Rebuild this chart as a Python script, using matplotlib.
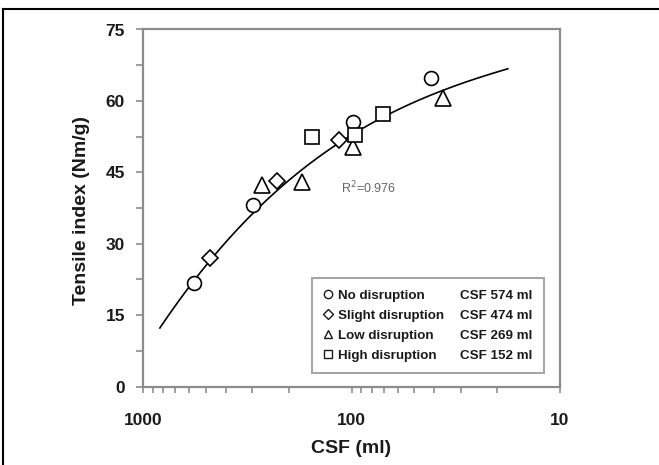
import numpy as np
import matplotlib
matplotlib.use("Agg")
import matplotlib.pyplot as plt
from matplotlib.lines import Line2D
from matplotlib.ticker import FixedLocator, LogLocator, NullFormatter, FixedFormatter

plt.rcParams['font.family'] = ['Liberation Sans', 'DejaVu Sans']

# ---- data ----
circle_csf = [569, 296, 98.6, 41.6]
circle_ti = [21.7, 38.2, 55.5, 64.8]
diamond_csf = [475, 228, 115]
diamond_ti = [27.0, 43.1, 51.8]
triangle_csf = [270, 173, 98.6, 36.6]
triangle_ti = [42.4, 43.0, 50.3, 60.6]
square_csf = [154.6, 95.7, 70.9]
square_ti = [52.5, 52.9, 57.3]

# points
curve_csf = [830, 575, 287, 199, 138, 103, 61.7, 37.0, 17.8]
curve_ti = [12.6, 21.6, 37.0, 42.9, 49.6, 52.7, 57.6, 61.8, 66.9]

legend_labels = ["No disruption", "Slight disruption", "Low disruption", "High disruption"]
legend_csf = ["CSF 574 ml", "CSF 474 ml", "CSF 269 ml", "CSF 152 ml"]
r2_text = "R$^2$=0.976"
y_ticks = [0, 15, 30, 45, 60, 75]
x_ticks = [1000, 100, 10]

fig = plt.figure(figsize=(6.59, 4.65), dpi=100)
ax = fig.add_axes([143/659, 1-386.5/465, 417/659, 357/465])

# fitted curve (cubic in log10 CSF through the points read along it)
coef = np.polyfit(np.log10(curve_csf), curve_ti, 3)
xx = np.logspace(np.log10(curve_csf[0]), np.log10(curve_csf[-1]), 200)
ax.plot(xx, np.polyval(coef, np.log10(xx)), color='black', lw=1.2, zorder=2)

mk = dict(ls='none', mfc='white', mec='black', mew=1.2, zorder=3)
ax.plot(circle_csf, circle_ti, marker='o', ms=10, **mk)
ax.plot(diamond_csf, diamond_ti, marker='D', ms=7.8, **mk)
ax.plot(triangle_csf, triangle_ti, marker='^', ms=11, **mk)
ax.plot(square_csf, square_ti, marker='s', ms=10, **mk)

ax.set_xscale('log')
ax.set_xlim(1000, 10)
ax.set_ylim(0, 75)

ax.xaxis.set_major_locator(FixedLocator(x_ticks))
ax.xaxis.set_major_formatter(FixedFormatter([str(v) for v in x_ticks]))
ax.xaxis.set_minor_locator(LogLocator(base=10, subs=np.arange(2, 10)))
ax.xaxis.set_minor_formatter(NullFormatter())
ax.set_yticks(y_ticks)
ax.set_yticks(np.arange(7.5, 75, 15), minor=True)

spine_c = '#8c8c8c'
for s in ax.spines.values():
    s.set_color(spine_c)
    s.set_linewidth(1.6)
ax.tick_params(axis='both', which='both', direction='out', color=spine_c, width=1.2)
ax.tick_params(axis='x', which='both', length=4, pad=15)
ax.tick_params(axis='y', which='both', length=5, pad=8)
for lab in ax.get_xticklabels() + ax.get_yticklabels():
    lab.set_fontsize(12.5)
    lab.set_fontweight('bold')
    lab.set_color('#1a1a1a')

ax.set_xlabel("CSF (ml)", fontsize=14, fontweight='bold', color='#1a1a1a')
ax.set_ylabel("Tensile index (Nm/g)", fontsize=14, fontweight='bold', color='#1a1a1a')
ax.xaxis.label.set_va('center')
ax.yaxis.label.set_va('center')
ax.xaxis.set_label_coords(0.5, -0.175)
ax.yaxis.set_label_coords(-0.148, 0.494)

ax.text(112, 41.7, r2_text, fontsize=9, color='#666666', va='center', ha='left')

# legend: markers + labels in first column, CSF values in second column
lg_m = dict(ls='none', mfc='none', mec='#1a1a1a', mew=1.0)
handles = [Line2D([], [], marker='o', ms=6, **lg_m),
           Line2D([], [], marker='D', ms=5, **lg_m),
           Line2D([], [], marker='^', ms=6, **lg_m),
           Line2D([], [], marker='s', ms=6, **lg_m)]
blank = [Line2D([], [], ls='none') for _ in legend_csf]
leg = ax.legend(handles + blank, legend_labels + legend_csf, ncol=2,
                loc='lower right', bbox_to_anchor=(0.962, 0.037),
                prop={'weight': 'bold', 'size': 9.6}, frameon=True, fancybox=False,
                handlelength=0.7, handletextpad=0.45, columnspacing=0.05,
                labelspacing=0.58, borderpad=0.85, borderaxespad=0)
leg.get_frame().set_edgecolor(spine_c)
leg.get_frame().set_linewidth(1.4)
for t in leg.get_texts():
    t.set_color('#1a1a1a')

# outer frame of the figure panel
fig.add_artist(Line2D([3/659, 3/659], [0, 1-9/465], transform=fig.transFigure, color='black', lw=1.5))
fig.add_artist(Line2D([3/659, 658/659], [1-9/465, 1-9/465], transform=fig.transFigure, color='black', lw=1.5))

fig.savefig("out.png", dpi=100)
